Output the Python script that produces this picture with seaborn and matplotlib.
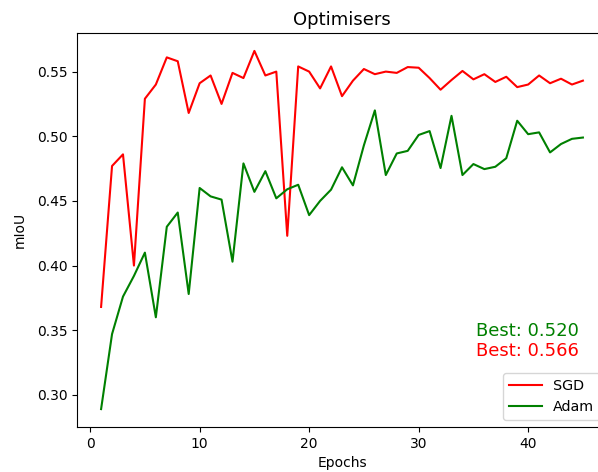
import matplotlib
matplotlib.use("Agg")
import matplotlib.pyplot as plt
import numpy as np
import pandas as pd
import seaborn as sns

# Validation mIoU per epoch for two optimisers
epochs = list(range(1, 46))
sgd_miou = [0.368, 0.477, 0.486, 0.400, 0.529, 0.540, 0.561, 0.558, 0.518, 0.541,
            0.547, 0.525, 0.549, 0.545, 0.566, 0.547, 0.550, 0.423, 0.554, 0.550,
            0.537, 0.554, 0.531, 0.543, 0.552, 0.548, 0.550, 0.549, 0.5535, 0.553,
            0.545, 0.536, 0.5435, 0.5505, 0.544, 0.548, 0.542, 0.546, 0.538, 0.540,
            0.547, 0.541, 0.5445, 0.540, 0.543]
adam_miou = [0.289, 0.347, 0.376, 0.392, 0.410, 0.360, 0.430, 0.441, 0.378, 0.460,
             0.4535, 0.451, 0.403, 0.479, 0.457, 0.473, 0.452, 0.459, 0.4625, 0.439,
             0.450, 0.4587, 0.476, 0.462, 0.493, 0.520, 0.470, 0.4867, 0.4887, 0.501,
             0.504, 0.4754, 0.5158, 0.470, 0.4785, 0.4746, 0.4764, 0.483, 0.512, 0.5016,
             0.503, 0.4875, 0.494, 0.498, 0.499]
optimisers = ["SGD", "Adam"]
colours = {"SGD": "red", "Adam": "green"}

df = pd.DataFrame({
    "Epochs": epochs * 2,
    "mIoU": sgd_miou + adam_miou,
    "Optimiser": ["SGD"] * len(epochs) + ["Adam"] * len(epochs),
})

fig = plt.figure(figsize=(5.98, 4.72), dpi=100)
ax = fig.add_axes([77 / 598, 1 - 427 / 472, 530 / 598, 394 / 472])

sns.lineplot(data=df, x="Epochs", y="mIoU", hue="Optimiser",
             hue_order=optimisers, palette=colours, linewidth=1.5, ax=ax)

ax.set_title("Optimisers", fontsize=13)
ax.set_xlabel("Epochs")
ax.set_ylabel("mIoU", labelpad=7)
ax.legend(loc="lower right", title=None, handlelength=2.3, fontsize=10.3)

best_sgd = max(sgd_miou)
best_adam = max(adam_miou)
ax.text(0.753, 0.243, f"Best: {best_adam:.3f}", color="green", fontsize=13,
        transform=ax.transAxes, va="center", ha="left")
ax.text(0.753, 0.193, f"Best: {best_sgd:.3f}", color="red", fontsize=13,
        transform=ax.transAxes, va="center", ha="left")

fig.savefig("out.png", dpi=100)
